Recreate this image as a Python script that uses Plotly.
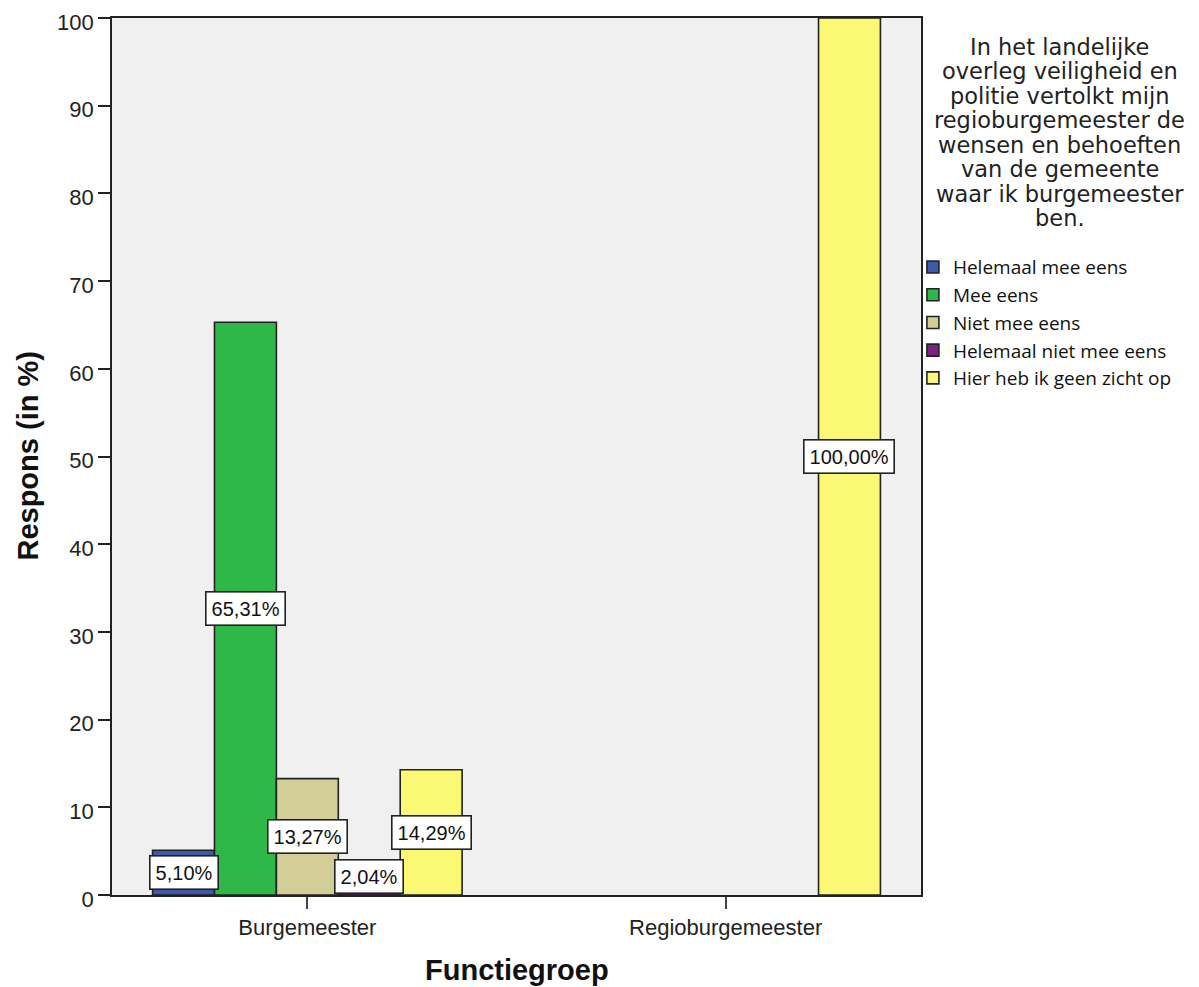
import plotly.graph_objects as go

# categories and series
groups = ["Burgemeester", "Regioburgemeester"]
answers = ["Helemaal mee eens", "Mee eens", "Niet mee eens",
           "Helemaal niet mee eens", "Hier heb ik geen zicht op"]
helemaal_mee_eens = [5.10, None]
mee_eens = [65.31, None]
niet_mee_eens = [13.27, None]
helemaal_niet_mee_eens = [2.04, None]
geen_zicht = [14.29, 100.00]
colors = ["#3E58AC", "#2EB848", "#D3CE97", "#7B2281", "#FBF873"]

series = [helemaal_mee_eens, mee_eens, niet_mee_eens,
          helemaal_niet_mee_eens, geen_zicht]

title_lines = ["In het landelijke", "overleg veiligheid en", "politie vertolkt mijn",
               "regioburgemeester de", "wensen en behoeften", "van de gemeente",
               "waar ik burgemeester", "ben."]

font = "Liberation Sans, Arial, sans-serif"
wide_font = "DejaVu Sans, Verdana, sans-serif"
bargap = 0.26
bar_w = (1 - bargap) / len(series)

fig = go.Figure()
for i, (name, vals) in enumerate(zip(answers, series)):
    fig.add_trace(go.Bar(
        x=groups, y=vals, name=name,
        marker=dict(color=colors[i], line=dict(color="#222222", width=1.6)),
        hoverinfo="skip",
    ))

# value labels in white boxes at the middle of each bar
annotations = []
for i, vals in enumerate(series):
    for g, v in enumerate(vals):
        if v is None:
            continue
        annotations.append(dict(
            x=g + (i - 2) * bar_w, y=max(v / 2, 2.1), xref="x", yref="y",
            text=f"{v:.2f}%".replace(".", ","), showarrow=False,
            font=dict(size=20, color="#111111", family=font),
            bgcolor="white", bordercolor="#222222", borderwidth=1.6, borderpad=5,
        ))

# legend heading, one line at a time (tight line spacing)
for k, line in enumerate(title_lines):
    annotations.append(dict(
        x=1.1718, y=(848 - 24.43 * k) / 877,
        xref="paper", yref="paper", xanchor="center", yanchor="middle",
        text=line, showarrow=False,
        font=dict(size=22.5, color="#222222", family=wide_font),
    ))

# axis titles
annotations.append(dict(
    x=0.5, y=-0.0855, xref="paper", yref="paper", xanchor="center", yanchor="middle",
    text="<b>Functiegroep</b>", showarrow=False,
    font=dict(size=29, color="#111111", family=font),
))
annotations.append(dict(
    x=-0.105, y=0.5, xref="paper", yref="paper", xanchor="center", yanchor="middle",
    text="<b>Respons (in %)</b>", showarrow=False, textangle=-90,
    font=dict(size=29, color="#111111", family=font),
))

fig.update_layout(
    width=1191, height=979,
    margin=dict(l=104, r=278, t=10, b=92),
    plot_bgcolor="#F0F0F0", paper_bgcolor="white",
    barmode="group", bargap=bargap, bargroupgap=0,
    font=dict(family=font, color="#222222"),
    annotations=annotations,
    legend=dict(
        x=0.99, y=0.7375, xanchor="left", yanchor="top",
        font=dict(size=19, family="Open Sans, Arial, sans-serif", color="#111111"),
        traceorder="normal", bgcolor="rgba(0,0,0,0)", itemclick=False,
    ),
    showlegend=True,
)

fig.update_xaxes(
    range=[-0.467, 1.467], automargin=False,
    showline=True, linecolor="#222222", linewidth=1.6, mirror=True,
    ticks="outside", ticklen=12, tickcolor="#444444", tickwidth=1.6,
    tickfont=dict(size=22, family=font, color="#222222"),
    showgrid=False,
)
fig.update_yaxes(
    range=[0, 100], dtick=10, ticklabeloverflow="allow", automargin=False,
    ticklabelshift=4,
    showline=True, linecolor="#222222", linewidth=1.6, mirror=True,
    ticks="outside", ticklen=12, tickcolor="#222222", tickwidth=1.6,
    tickfont=dict(size=22, family=font, color="#222222"),
    showgrid=False, zeroline=False,
)

fig.write_html("out.html")
